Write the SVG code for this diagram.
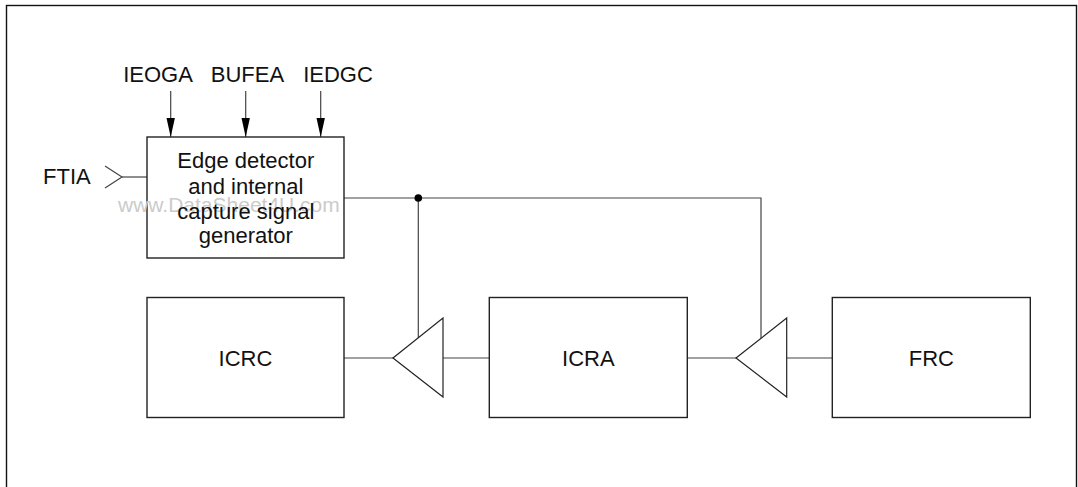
<svg xmlns="http://www.w3.org/2000/svg" width="1078" height="487" viewBox="0 0 1078 487">
<style>
text{font-family:"Liberation Sans",Arial,sans-serif;font-size:22px;fill:#111;}
.c{text-anchor:middle;}
.box{fill:#fff;stroke:#222;stroke-width:1.4;}
.w{stroke:#444;stroke-width:1.2;fill:none;}
.tri{fill:#fff;stroke:#222;stroke-width:1.2;}
.wm{fill:#cbcbcb;font-size:21px;}
</style>
<rect x="6.5" y="5.5" width="1070" height="500" fill="#fff" stroke="#111" stroke-width="1.4"/>
<g id="connectors">
<line class="w" x1="170.7" y1="91" x2="170.7" y2="137"/>
<polygon points="166.5,118 174.9,118 170.7,137" fill="#000"/>
<line class="w" x1="245.7" y1="91" x2="245.7" y2="137"/>
<polygon points="241.5,118 249.9,118 245.7,137" fill="#000"/>
<line class="w" x1="320.7" y1="91" x2="320.7" y2="137"/>
<polygon points="316.5,118 324.9,118 320.7,137" fill="#000"/>
<polyline class="w" points="105,166 122,177 105,188"/>
<line class="w" x1="122" y1="177" x2="147" y2="177"/>
<polyline class="w" points="344,198 761,198 761,338"/>
<line class="w" x1="418.3" y1="198" x2="418.3" y2="338"/>
<circle cx="418.3" cy="198" r="3.8" fill="#000"/>
<line class="w" x1="344" y1="358" x2="393" y2="358"/>
<line class="w" x1="443" y1="358" x2="489" y2="358"/>
<line class="w" x1="687" y1="358" x2="736" y2="358"/>
<line class="w" x1="787" y1="358" x2="832" y2="358"/>
</g>
<g id="labels">
<text class="c" x="158" y="82">IEOGA</text>
<text class="c" x="247.5" y="82">BUFEA</text>
<text class="c" x="338" y="82">IEDGC</text>
<text x="43" y="184">FTIA</text>
</g>
<g id="edge-detector">
<rect class="box" x="147" y="137" width="197" height="121"/>
<text class="wm" x="118" y="212">www.DataSheet4U.com</text>
<text class="c" x="245.8" y="168">Edge detector</text>
<text class="c" x="245.8" y="194">and internal</text>
<text class="c" x="245.8" y="219">capture signal</text>
<text class="c" x="245.8" y="243">generator</text>
</g>
<g id="icrc">
<rect class="box" x="147" y="297.5" width="197" height="120"/>
<text class="c" x="245.5" y="366">ICRC</text>
</g>
<g id="buf1">
<polygon class="tri" points="393,358 443,318 443,397"/>
</g>
<g id="icra">
<rect class="box" x="489.3" y="297.5" width="198" height="120"/>
<text class="c" x="588.3" y="366">ICRA</text>
</g>
<g id="buf2">
<polygon class="tri" points="736,358 786.7,318 786.7,397"/>
</g>
<g id="frc">
<rect class="box" x="832.3" y="297.5" width="198" height="120"/>
<text class="c" x="931.3" y="366">FRC</text>
</g>
</svg>
